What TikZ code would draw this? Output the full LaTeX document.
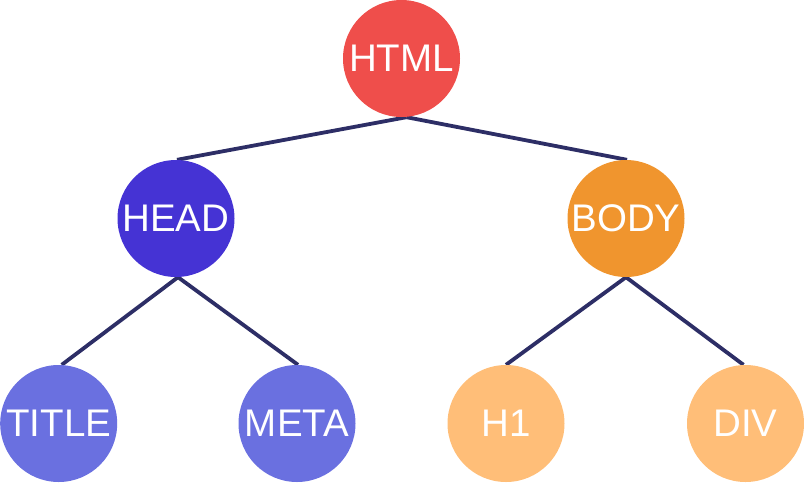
\documentclass[tikz,border=0pt]{standalone}
\usepackage{fontspec}
\setmainfont{Liberation Sans}
\usetikzlibrary{backgrounds}
\definecolor{cred}{HTML}{EF4E4B}
\definecolor{chead}{HTML}{4533D4}
\definecolor{cbody}{HTML}{F0952E}
\definecolor{cheadkid}{HTML}{6A70E0}
\definecolor{cbodykid}{HTML}{FFBE78}
\definecolor{cline}{HTML}{2D2E66}
\tikzset{
  tnode/.style={circle, minimum size=117pt, inner sep=0pt, text=white, font=\fontsize{38.5}{38.5}\selectfont},
  conn/.style={draw=cline, line width=3.8pt},
}
\begin{document}
\begin{tikzpicture}[x=1pt,y=-1pt]
\useasboundingbox (0,0) rectangle (804,483);
\node[tnode, fill=cred] (html) at (401.5,58.5) {HTML};
\node[tnode, fill=chead] (head) at (176,218.5) {HEAD};
\node[tnode, fill=cbody] (body) at (626,218.5) {BODY};
\node[tnode, fill=cheadkid] (title) at (58.7,423.5) {TITLE};
\node[tnode, fill=cheadkid] (meta) at (297,423.5) {META};
\node[tnode, fill=cbodykid] (h1) at (506,423.5) {H1};
\node[tnode, fill=cbodykid] (div) at (745.5,423.5) {DIV};
\begin{scope}[on background layer]
\path[conn] ([xshift=5pt]html.south) -- ([xshift=1pt]head.north);
\path[conn] ([xshift=5pt]html.south) -- ([xshift=1pt]body.north);
\path[conn] ([xshift=2pt]head.south) -- ([xshift=3pt]title.north);
\path[conn] ([xshift=2pt]head.south) -- ([xshift=1pt]meta.north);
\path[conn] (body.south) -- (h1.north);
\path[conn] (body.south) -- ([xshift=-2pt]div.north);
\end{scope}
\end{tikzpicture}
\end{document}
